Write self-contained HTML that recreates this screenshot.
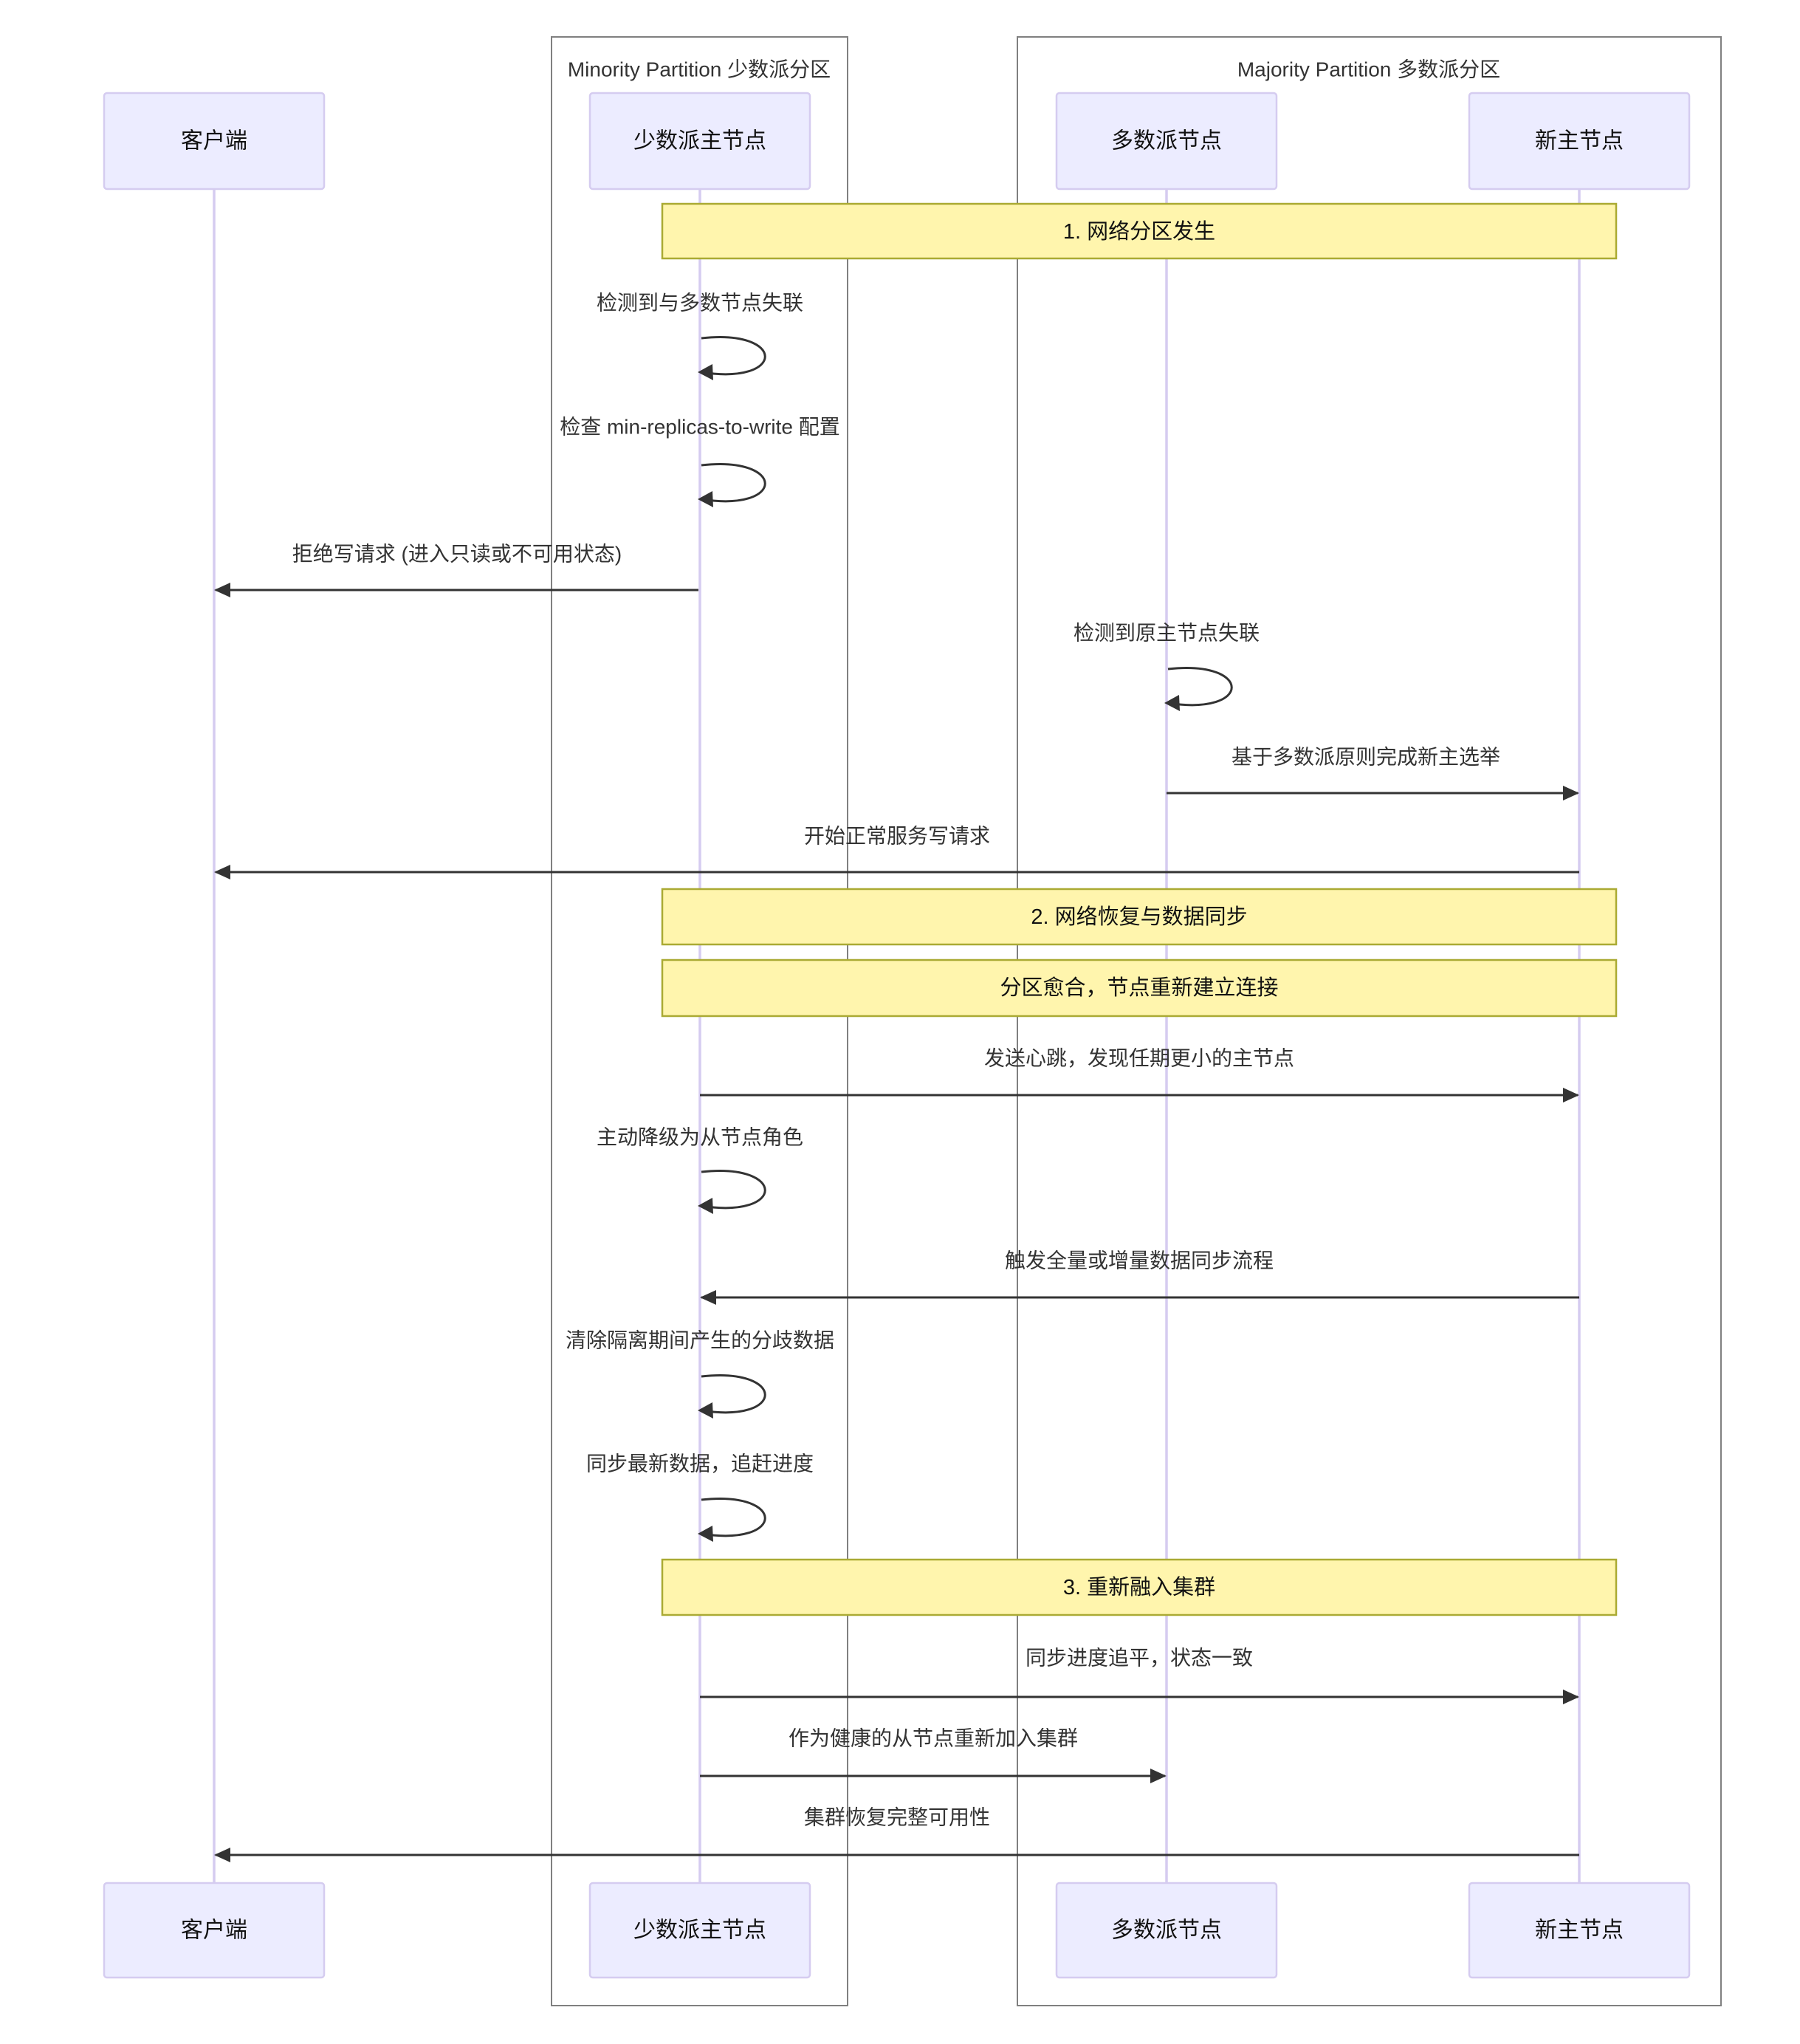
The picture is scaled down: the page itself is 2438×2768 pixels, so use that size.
<!DOCTYPE html>
<html><head><meta charset="utf-8"><style>
html,body{margin:0;padding:0;background:#fff;}
svg{display:block;}
text{font-family:"Liberation Sans","Noto Sans CJK SC",sans-serif;}
</style></head><body>
<svg width="2438" height="2768" viewBox="0 0 2438 2768" xmlns="http://www.w3.org/2000/svg">
<defs>
<marker id="ah" markerWidth="12" markerHeight="12" refX="11" refY="6" orient="auto" markerUnits="userSpaceOnUse" viewBox="0 0 12 12">
</marker>
</defs>
<rect width="2438" height="2768" fill="#fff"/>
<!-- partition boxes -->
<rect x="747" y="50" width="401" height="2666" fill="none" stroke="#808080" stroke-width="2"/>
<rect x="1378" y="50" width="953" height="2666" fill="none" stroke="#808080" stroke-width="2"/>
<g font-size="28" fill="#333" text-anchor="middle" dominant-baseline="central">
<text x="947" y="94">Minority Partition 少数派分区</text>
<text x="1854" y="94">Majority Partition 多数派分区</text>
</g>
<!-- lifelines -->
<g stroke="#D5CCF0" stroke-width="3.5">
<line x1="290" y1="256" x2="290" y2="2550"/>
<line x1="948" y1="256" x2="948" y2="2550"/>
<line x1="1580" y1="256" x2="1580" y2="2550"/>
<line x1="2139" y1="256" x2="2139" y2="2550"/>
</g>
<!-- actors -->
<g fill="#ECECFF" stroke="#D5CCF0" stroke-width="2.5">
<rect x="141" y="126" width="298" height="130" rx="4"/>
<rect x="799" y="126" width="298" height="130" rx="4"/>
<rect x="1431" y="126" width="298" height="130" rx="4"/>
<rect x="1990" y="126" width="298" height="130" rx="4"/>
<rect x="141" y="2550" width="298" height="128" rx="4"/>
<rect x="799" y="2550" width="298" height="128" rx="4"/>
<rect x="1431" y="2550" width="298" height="128" rx="4"/>
<rect x="1990" y="2550" width="298" height="128" rx="4"/>
</g>
<g font-size="30" fill="#111" text-anchor="middle" dominant-baseline="central">
<text x="290" y="191">客户端</text>
<text x="948" y="191">少数派主节点</text>
<text x="1580" y="191">多数派节点</text>
<text x="2139" y="191">新主节点</text>
<text x="290" y="2614">客户端</text>
<text x="948" y="2614">少数派主节点</text>
<text x="1580" y="2614">多数派节点</text>
<text x="2139" y="2614">新主节点</text>
</g>
<!-- notes -->
<g fill="#FFF5AD" stroke="#AAAA33" stroke-width="2.5">
<rect x="897" y="276" width="1292" height="74"/>
<rect x="897" y="1204" width="1292" height="75"/>
<rect x="897" y="1300" width="1292" height="76"/>
<rect x="897" y="2112" width="1292" height="75"/>
</g>
<g font-size="29" fill="#111" text-anchor="middle" dominant-baseline="central">
<text x="1543" y="314">1. 网络分区发生</text>
<text x="1543" y="1242">2. 网络恢复与数据同步</text>
<text x="1543" y="1338">分区愈合，节点重新建立连接</text>
<text x="1543" y="2150">3. 重新融入集群</text>
</g>
<!-- messages -->
<g stroke="#333" stroke-width="3" fill="none">
<path d="M950,458 C1065,445 1065,522 950,504"/>
<path d="M950,630 C1065,617 1065,694 950,676"/>
<line x1="946" y1="799" x2="292" y2="799"/>
<path d="M1582,906 C1697,893 1697,970 1582,952"/>
<line x1="1580" y1="1074" x2="2137" y2="1074"/>
<line x1="2139" y1="1181" x2="292" y2="1181"/>
<line x1="948" y1="1483" x2="2137" y2="1483"/>
<path d="M950,1587 C1065,1574 1065,1651 950,1633"/>
<line x1="2139" y1="1757" x2="950" y2="1757"/>
<path d="M950,1864 C1065,1851 1065,1928 950,1910"/>
<path d="M950,2031 C1065,2018 1065,2095 950,2077"/>
<line x1="948" y1="2298" x2="2137" y2="2298"/>
<line x1="948" y1="2405" x2="1578" y2="2405"/>
<line x1="2139" y1="2512" x2="292" y2="2512"/>
</g>
<!-- arrowheads -->
<g fill="#333">
<polygon points="945,504 965,493 966,515"/>
<polygon points="945,676 965,665 966,687"/>
<polygon points="290,799 312,789 312,809"/>
<polygon points="1577,952 1597,941 1598,963"/>
<polygon points="2139,1074 2117,1064 2117,1084"/>
<polygon points="290,1181 312,1171 312,1191"/>
<polygon points="2139,1483 2117,1473 2117,1493"/>
<polygon points="945,1633 965,1622 966,1644"/>
<polygon points="948,1757 970,1747 970,1767"/>
<polygon points="945,1910 965,1899 966,1921"/>
<polygon points="945,2077 965,2066 966,2088"/>
<polygon points="2139,2298 2117,2288 2117,2308"/>
<polygon points="1580,2405 1558,2395 1558,2415"/>
<polygon points="290,2512 312,2502 312,2522"/>
</g>
<g font-size="28" fill="#333" text-anchor="middle" dominant-baseline="central">
<text x="948" y="410">检测到与多数节点失联</text>
<text x="948" y="578">检查 min-replicas-to-write 配置</text>
<text x="619" y="750">拒绝写请求 (进入只读或不可用状态)</text>
<text x="1580" y="857">检测到原主节点失联</text>
<text x="1850" y="1025">基于多数派原则完成新主选举</text>
<text x="1215" y="1132">开始正常服务写请求</text>
<text x="1543" y="1433">发送心跳，发现任期更小的主节点</text>
<text x="948" y="1540">主动降级为从节点角色</text>
<text x="1543" y="1707">触发全量或增量数据同步流程</text>
<text x="948" y="1815">清除隔离期间产生的分歧数据</text>
<text x="948" y="1982">同步最新数据，追赶进度</text>
<text x="1543" y="2245">同步进度追平，状态一致</text>
<text x="1264" y="2354">作为健康的从节点重新加入集群</text>
<text x="1215" y="2461">集群恢复完整可用性</text>
</g>
</svg>
</body></html>
